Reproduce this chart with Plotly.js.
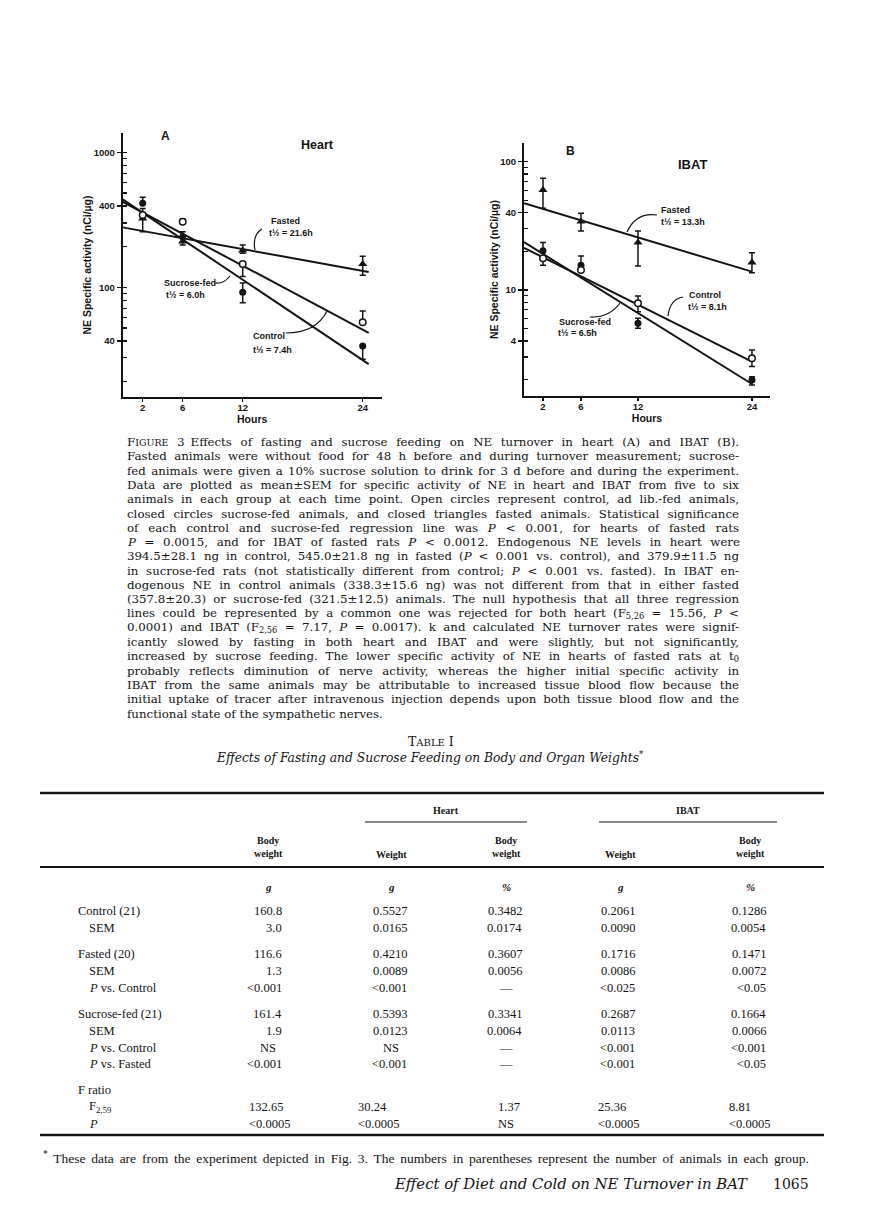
<!DOCTYPE html>
<html><head><meta charset="utf-8">
<script src="https://cdn.plot.ly/plotly-3.0.1.min.js"></script>
<style>html,body{margin:0;padding:0;background:#fff;}#page{width:885px;height:1224px;}</style>
</head><body><div id="page"></div>
<script>
// ================= DATA =================
const hours = [2, 6, 12, 24];
const fitHoursA = [0, 24.6];
const fitHoursB = [0, 24];

// Panel A - Heart, NE specific activity (nCi/µg)
const heartControl      = [343, 306, 149, 55.0];
const heartControlPlus  = [41, 13, 0, 11.7];
const heartControlMinus = [0, 0, 29, 0];
const heartSucrose      = [419, 237, 91.8, 36.8];
const heartSucrosePlus  = [45, 21, 16, 0];
const heartSucroseMinus = [0, 0, 15, 7.5];
const heartFasted       = [324, 218, 187, 149];
const heartFastedPlus   = [0, 0, 19, 21];
const heartFastedMinus  = [66, 12, 8, 26];
const heartControlFit = [430, 46];
const heartSucroseFit = [448, 27];
const heartFastedFit  = [278, 130];
const heartTicks = [40, 100, 400, 1000];

// Panel B - IBAT
const ibatControl      = [17.7, 14.3, 7.88, 2.94];
const ibatControlPlus  = [0, 0, 1.1, 0.47];
const ibatControlMinus = [2.1, 0, 1.11, 0.41];
const ibatSucrose      = [20.2, 15.6, 5.5, 1.99];
const ibatSucrosePlus  = [3.2, 2.8, 0.52, 0.12];
const ibatSucroseMinus = [0, 0, 0.47, 0.17];
const ibatFasted       = [60.2, 34.1, 23.4, 16.4];
const ibatFastedPlus   = [14, 5.5, 5.4, 3.1];
const ibatFastedMinus  = [16.9, 5.3, 8, 2.8];
const ibatControlFit = [21.3, 2.76];
const ibatSucroseFit = [23.6, 1.85];
const ibatFastedFit  = [47.4, 13.9];
const ibatTicks = [4, 10, 40, 100];

// Caption
const captionLines = [
 'F<span style="font-size:0.8em">IGURE</span> 3\u2002Effects of fasting and sucrose feeding on NE turnover in heart (A) and IBAT (B).',
 'Fasted animals were without food for 48 h before and during turnover measurement; sucrose-',
 'fed animals were given a 10% sucrose solution to drink for 3 d before and during the experiment.',
 'Data are plotted as mean±SEM for specific activity of NE in heart and IBAT from five to six',
 'animals in each group at each time point. Open circles represent control, ad lib.-fed animals,',
 'closed circles sucrose-fed animals, and closed triangles fasted animals. Statistical significance',
 'of each control and sucrose-fed regression line was <i>P</i> &lt; 0.001, for hearts of fasted rats',
 '<i>P</i> = 0.0015, and for IBAT of fasted rats <i>P</i> &lt; 0.0012. Endogenous NE levels in heart were',
 '394.5±28.1 ng in control, 545.0±21.8 ng in fasted (<i>P</i> &lt; 0.001 vs. control), and 379.9±11.5 ng',
 'in sucrose-fed rats (not statistically different from control; <i>P</i> &lt; 0.001 vs. fasted). In IBAT en-',
 'dogenous NE in control animals (338.3±15.6 ng) was not different from that in either fasted',
 '(357.8±20.3) or sucrose-fed (321.5±12.5) animals. The null hypothesis that all three regression',
 'lines could be represented by a common one was rejected for both heart (F<sub>5,26</sub> = 15.56, <i>P</i> &lt;',
 '0.0001) and IBAT (F<sub>2,56</sub> = 7.17, <i>P</i> = 0.0017). k and calculated NE turnover rates were signif-',
 'icantly slowed by fasting in both heart and IBAT and were slightly, but not significantly,',
 'increased by sucrose feeding. The lower specific activity of NE in hearts of fasted rats at t<sub>0</sub>',
 'probably reflects diminution of nerve activity, whereas the higher initial specific activity in',
 'IBAT from the same animals may be attributable to increased tissue blood flow because the',
 'initial uptake of tracer after intravenous injection depends upon both tissue blood flow and the',
 'functional state of the sympathetic nerves.'
];

// Table I
const tableTitle = 'T<span style="font-size:0.8em">ABLE</span> I';
const tableSubtitle = 'Effects of Fasting and Sucrose Feeding on Body and Organ Weights<sup>*</sup>';
const groupHeaders = ['Heart', 'IBAT'];
const columnHeaders = ['Body<br>weight', 'Weight', 'Body<br>weight', 'Weight', 'Body<br>weight'];
const columnUnits = ['g', 'g', '%', 'g', '%'];
const rowLabels = ['Control (21)', 'SEM', 'Fasted (20)', 'SEM', '<i>P</i> vs. Control',
  'Sucrose-fed (21)', 'SEM', '<i>P</i> vs. Control', '<i>P</i> vs. Fasted',
  'F ratio', 'F<sub>2,59</sub>', '<i>P</i>'];
const bodyWeight = ['160.8','3.0','116.6','1.3','<0.001','161.4','1.9','NS','<0.001','','132.65','<0.0005'];
const heartWeight = ['0.5527','0.0165','0.4210','0.0089','<0.001','0.5393','0.0123','NS','<0.001','','30.24','<0.0005'];
const heartPercent = ['0.3482','0.0174','0.3607','0.0056','—','0.3341','0.0064','—','—','','1.37','NS'];
const ibatWeight = ['0.2061','0.0090','0.1716','0.0086','<0.025','0.2687','0.0113','<0.001','<0.001','','25.36','<0.0005'];
const ibatPercent = ['0.1286','0.0054','0.1471','0.0072','<0.05','0.1664','0.0066','<0.001','<0.05','','8.81','<0.0005'];
const footnote = '<sup>*</sup> These data are from the experiment depicted in Fig. 3. The numbers in parentheses represent the number of animals in each group.';
const runningTitle = 'Effect of Diet and Cold on NE Turnover in BAT';
const pageNumber = '1065';

// ================= HELPERS =================
const W = 885, H = 1224;
const X = p => p / W, Y = p => 1 - p / H;
const INK = '#141414';
const sans = 'Liberation Sans, Arial, sans-serif';
const serif = 'DejaVu Serif, serif';
const tserif = 'Liberation Serif, Times New Roman, serif';
const esc = s => s.replace(/&/g,'&amp;').replace(/</g,'&lt;').replace(/>/g,'&gt;');

// text width measurement (canvas) for fitting print-like lines
const cv = document.createElement('canvas').getContext('2d');
function measure(rich, size, family, italic, weight) {
  const re = /<(\/?)(i|sub|sup|span|b)([^>]*)>|([^<]+)/g;
  const st = [{it: !!italic, sz: size}];
  let m, w = 0;
  while ((m = re.exec(rich))) {
    const cur = st[st.length - 1];
    if (m[4] !== undefined) {
      const s = m[4].replace(/&lt;/g,'<').replace(/&gt;/g,'>').replace(/&amp;/g,'&');
      cv.font = `${cur.it ? 'italic ' : ''}${weight || 'normal'} ${cur.sz}px ${family}`;
      w += cv.measureText(s).width;
    } else if (m[1]) { if (st.length > 1) st.pop(); }
    else {
      const n = {it: cur.it, sz: cur.sz};
      if (m[2] === 'i') n.it = true;
      else if (m[2] === 'sub' || m[2] === 'sup') n.sz = cur.sz * 0.7;
      else if (m[2] === 'span') {
        const f = /font-size:\s*([\d.]+)(px|em)/.exec(m[3]);
        if (f) n.sz = f[2] === 'em' ? cur.sz * (+f[1]) : +f[1];
      }
      st.push(n);
    }
  }
  return w;
}
function fitSize(rich, target, base, family, italic) {
  return base * target / measure(rich, base, family, italic);
}

const annotations = [];
function txt(x, y, text, o) {
  o = o || {};
  annotations.push({
    xref: 'paper', yref: 'paper', x: X(x), y: Y(y), text: text, showarrow: false,
    xanchor: o.xa || 'left', yanchor: 'middle', align: o.align || (o.xa || 'left'),
    borderpad: 0,
    font: {family: o.family || sans, size: o.size || 10, color: INK,
           weight: o.weight || 'normal', style: o.style || 'normal'}
  });
  return annotations.length - 1;
}
const shapes = [];
function hline(x0, x1, y, w) {
  shapes.push({type:'line', xref:'paper', yref:'paper', x0:X(x0), x1:X(x1), y0:Y(y), y1:Y(y),
               line:{color:INK, width:w}});
}
function curve(a, c, b) {
  shapes.push({type:'path', xref:'paper', yref:'paper',
    path:`M ${X(a[0])} ${Y(a[1])} Q ${X(c[0])} ${Y(c[1])} ${X(b[0])} ${Y(b[1])}`,
    line:{color:INK, width:1.2}});
}

// ================= TRACES =================
const traces = [];
function fit(xs, ys, xa, ya) {
  traces.push({x: xs, y: ys, xaxis: xa, yaxis: ya, mode: 'lines', hoverinfo: 'skip',
               line: {color: INK, width: 2}});
}
function pts(ys, plus, minus, xa, ya, marker) {
  traces.push({x: hours, y: ys, xaxis: xa, yaxis: ya, mode: 'markers', marker: marker,
    error_y: {type:'data', symmetric:false, array: plus, arrayminus: minus,
              color: INK, thickness: 1.5, width: 3}});
}
const mOpen = {symbol:'circle', size:6.5, color:'white', line:{color:INK, width:1.5}};
const mClosed = {symbol:'circle', size:7, color:INK};
const mTri = {symbol:'triangle-up', size:8, color:INK};

fit(fitHoursA, heartFastedFit, 'x', 'y');
fit(fitHoursA, heartControlFit, 'x', 'y');
fit(fitHoursA, heartSucroseFit, 'x', 'y');
pts(heartFasted, heartFastedPlus, heartFastedMinus, 'x', 'y', mTri);
pts(heartSucrose, heartSucrosePlus, heartSucroseMinus, 'x', 'y', mClosed);
pts(heartControl, heartControlPlus, heartControlMinus, 'x', 'y', mOpen);

fit(fitHoursB, ibatFastedFit, 'x2', 'y2');
fit(fitHoursB, ibatControlFit, 'x2', 'y2');
fit(fitHoursB, ibatSucroseFit, 'x2', 'y2');
pts(ibatFasted, ibatFastedPlus, ibatFastedMinus, 'x2', 'y2', mTri);
pts(ibatSucrose, ibatSucrosePlus, ibatSucroseMinus, 'x2', 'y2', mClosed);
pts(ibatControl, ibatControlPlus, ibatControlMinus, 'x2', 'y2', mOpen);

traces.push({x: [], y: [], xaxis: 'x', yaxis: 'y3', mode: 'lines', hoverinfo: 'skip'});
traces.push({x: [], y: [], xaxis: 'x2', yaxis: 'y4', mode: 'lines', hoverinfo: 'skip'});

function logTicks(lo, hi) {
  const out = [];
  for (let d = lo; d < hi; d *= 10) for (let k = 1; k <= 9; k++) out.push(d * k);
  out.push(hi);
  return out;
}

const tickFont = {family: sans, size: 9.5, color: INK, weight: 'bold'};
const xBase = {
  range: [0, 25.9], tickvals: hours, ticks: 'outside', ticklen: 3, tickwidth: 1.5, tickcolor: INK,
  ticklabelstandoff: -2,
  showline: true, linewidth: 2, linecolor: INK, showgrid: false, zeroline: false,
  tickfont: tickFont,
  title: {text: 'Hours', font: {family: sans, size: 10.5, weight: 'bold', color: INK}, standoff: 0}
};
const yTitle = {text: 'NE Specific activity (nCi/µg)', font: {family: sans, size: 10.5, weight: 'bold', color: INK}, standoff: 0};
function yBase(domain, range, tv) {
  return {domain: domain, type: 'log', range: range, tickvals: tv, ticktext: tv.map(String),
    ticks: 'outside', ticklen: 4, tickwidth: 1.5, tickcolor: INK,
    showline: true, linewidth: 2, linecolor: INK, showgrid: false, zeroline: false,
    tickfont: tickFont, title: yTitle};
}
function yMinor(over, anchor, range, tv) {
  return {overlaying: over, anchor: anchor, side: 'left', type: 'log', range: range, tickvals: tv,
    ticks: 'inside', ticklen: 4, tickwidth: 1.2, tickcolor: INK, showticklabels: false,
    showline: false, showgrid: false, zeroline: false};
}
const rangeA = [Math.log10(15.4), Math.log10(1390)];
const rangeB = [Math.log10(1.5), Math.log10(139)];

// ================= CHART TEXT =================
const lab = {size: 9, weight: 'bold'};
txt(165, 136, 'A', {xa:'center', size:12, weight:'bold'});
txt(317, 145, 'Heart', {xa:'center', size:12.5, weight:'bold'});
txt(270, 221, 'Fasted', lab);
txt(268, 233, 't½ = 21.6h', lab);
txt(163, 283, 'Sucrose-fed', lab);
txt(165, 294.5, 't½ = 6.0h', lab);
txt(252, 336, 'Control', lab);
txt(252, 350, 't½ = 7.4h', lab);
curve([262, 229], [252, 235], [255, 250]);
curve([215, 283], [224, 284], [230, 276]);
curve([286, 333], [316, 333], [327, 311]);

txt(570, 151, 'B', {xa:'center', size:12, weight:'bold'});
txt(692, 165, 'IBAT', {xa:'center', size:13, weight:'bold'});
txt(660, 210, 'Fasted', lab);
txt(660, 222, 't½ = 13.3h', lab);
txt(688, 295, 'Control', lab);
txt(687, 307, 't½ = 8.1h', lab);
txt(558, 322, 'Sucrose-fed', lab);
txt(557, 333.5, 't½ = 6.5h', lab);
curve([657, 215], [636, 212], [627, 232]);
curve([683, 297], [670, 299], [668, 316]);
curve([590, 317], [609, 318], [620, 303]);

// ================= CAPTION =================
const capLeft = 126, capWidth = 612, capTop = 442, capPitch = 14.3, capSize = 11.8;
const capIdx = captionLines.map((line, i) =>
  txt(capLeft, capTop + i * capPitch, line, {family: serif, size: capSize}));

// ================= TABLE =================
txt(431, 741, tableTitle, {xa:'center', family: serif, size: 12.5});
txt(430, 757, tableSubtitle, {xa:'center', family: serif, size: 12.3, style:'italic'});
hline(40, 824, 793, 2.5);
txt(446, 810, groupHeaders[0], {xa:'center', family: tserif, size: 10, weight:'bold'});
txt(688, 810, groupHeaders[1], {xa:'center', family: tserif, size: 10, weight:'bold'});
hline(365, 527, 822, 1);
hline(599, 777, 822, 1);
const colCenter = [268, 391, 506, 620, 750];
const colRight = [283, 408, 523, 636, 767];
const colFStart = [248, 357, 497, 597, 728];
columnHeaders.forEach((h, j) => {
  const two = h.indexOf('<br>') >= 0;
  txt(colCenter[j], two ? 847 : 854, h, {xa:'center', family: tserif, size: 10, weight:'bold'});
  txt(colCenter[j], 887, columnUnits[j], {xa:'center', family: tserif, size: 11, style:'italic', weight:'bold'});
});
hline(40, 824, 867, 2);
const rowY = [911, 928, 954, 971, 988, 1014, 1031, 1048, 1064, 1090, 1107, 1124];
const rowIndent = [0, 1, 0, 1, 1, 0, 1, 1, 1, 0, 1, 1];
const cols = [bodyWeight, heartWeight, heartPercent, ibatWeight, ibatPercent];
rowLabels.forEach((lb, i) => {
  txt(rowIndent[i] ? 88 : 77, rowY[i], lb, {family: tserif, size: 12.5});
  cols.forEach((col, j) => {
    const v = col[i];
    if (!v) return;
    if (i >= 10) txt(colFStart[j], rowY[i], esc(v), {family: tserif, size: 12.5});
    else if (v === 'NS' || v === '—') txt(colCenter[j], rowY[i], v, {xa:'center', family: tserif, size: 12.5});
    else txt(colRight[j], rowY[i], esc(v), {xa:'right', family: tserif, size: 12.5});
  });
});
hline(40, 824, 1135, 2.5);
const footSize = Math.min(13.5, fitSize(footnote, 766, 12, '"Liberation Serif"', false));
const footIdx = txt(42, 1157, footnote, {family: tserif, size: footSize});
const runSize = Math.min(15, fitSize(runningTitle, 352, 13, '"DejaVu Serif"', true));
const runIdx = txt(393, 1184, runningTitle, {family: serif, size: runSize, style:'italic'});
txt(810, 1184, pageNumber, {xa:'right', family: serif, size: 14});

// ================= PLOT =================
const layout = {
  width: W, height: H, margin: {l:0, r:0, t:0, b:0}, autosize: false,
  paper_bgcolor: 'white', plot_bgcolor: 'rgba(0,0,0,0)', showlegend: false,
  font: {family: sans, size: 10, color: INK},
  xaxis: Object.assign({}, xBase, {domain: [X(122.7), X(381.7)], anchor: 'y'}),
  yaxis: Object.assign(yBase([Y(397), Y(133)], rangeA, heartTicks), {anchor: 'x'}),
  yaxis3: yMinor('y', 'x', rangeA, logTicks(10, 1000).filter(v => v >= 20)),
  xaxis2: Object.assign({}, xBase, {domain: [X(524), X(770)], anchor: 'y2'}),
  yaxis2: Object.assign(yBase([Y(395.7), Y(143.3)], rangeB, ibatTicks), {anchor: 'x2'}),
  yaxis4: yMinor('y2', 'x2', rangeB, logTicks(1, 100).filter(v => v >= 2)),
  annotations: annotations,
  shapes: shapes
};

function justify(idx, target) {
  const t = document.querySelector(`#page g.annotation[data-index="${idx}"] text.annotation-text`);
  if (!t) return;
  const w = t.getComputedTextLength();
  const n = (t.textContent.match(/ /g) || []).length;
  if (n > 0) t.style.wordSpacing = Math.max(-1.5, (target - w) / n) + 'px';
}

Plotly.newPlot('page', traces, layout, {staticPlot: true}).then(() => {
  capIdx.slice(0, -1).forEach(i => justify(i, capWidth));
  justify(footIdx, 766);
  justify(runIdx, 352);
});
</script></body></html>
